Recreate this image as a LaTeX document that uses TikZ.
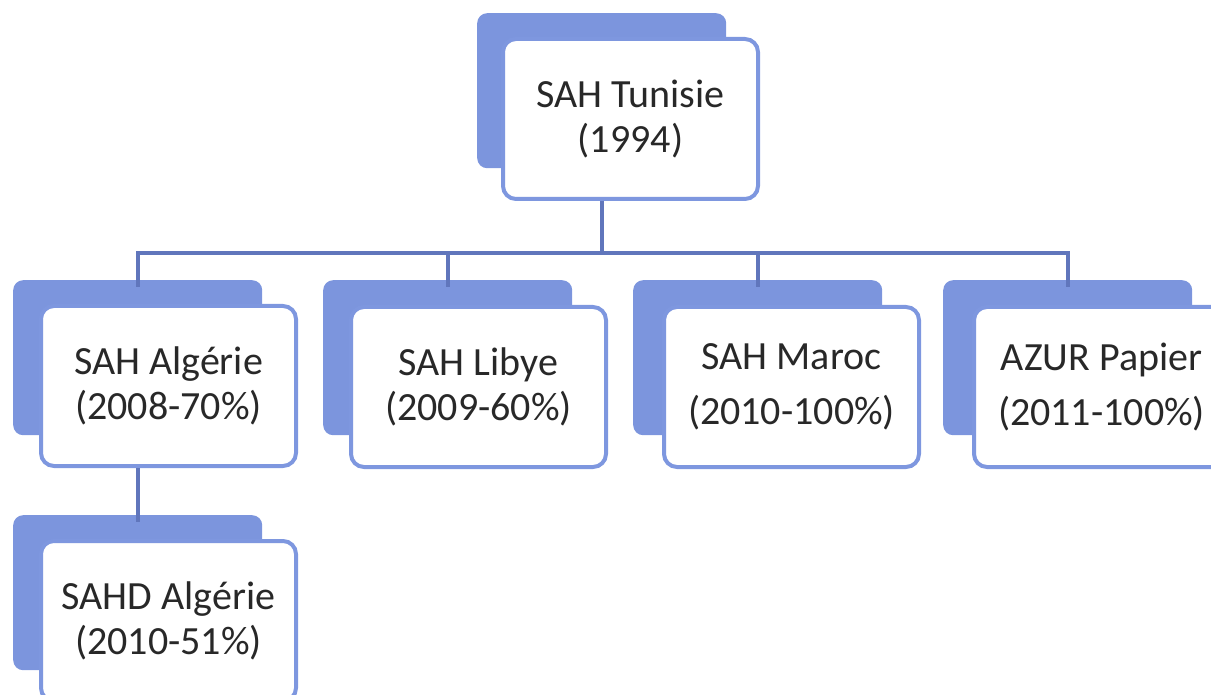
\documentclass[tikz,border=0pt]{standalone}
\usepackage{fontspec}
\setmainfont{Carlito}
\definecolor{backblue}{RGB}{124,149,221}
\definecolor{edgeblue}{RGB}{126,151,223}
\definecolor{connblue}{RGB}{96,118,188}
\definecolor{txt}{RGB}{40,40,40}
\tikzset{
  backbox/.style={fill=backblue, draw=none, rounded corners=10pt, minimum width=249pt, minimum height=155pt, anchor=north west, inner sep=0pt},
  frontbox/.style={fill=white, draw=edgeblue, line width=4pt, rounded corners=13pt, minimum width=255pt, minimum height=160pt, anchor=north west, align=center, text=txt, font=\fontsize{40}{45}\selectfont, inner sep=0pt},
  conn/.style={draw=connblue, line width=4pt},
}
\begin{document}
\begin{tikzpicture}[x=1pt,y=-1pt]
\useasboundingbox (0,0) rectangle (1211,695);
\clip (0,0) rectangle (1211,695);
% top
\node[backbox] (tb) at (477,13) {};
\node[frontbox] (tf) at (501,37) {SAH Tunisie\\(1994)};
% level 2
\node[backbox] (ab) at (13,280) {};
\node[frontbox] (af) at (39,304) {SAH Algérie\\(2008-70\%)};
\node[backbox] (lb) at (323,280) {};
\node[frontbox] (lf) at (349,305) {SAH Libye\\(2009-60\%)};
\node[backbox] (mb) at (633,280) {};
\node[frontbox, font=\fontsize{40}{55}\selectfont] (mf) at (662,305) {SAH Maroc\\(2010-100\%)};
\node[backbox] (zb) at (943,280) {};
\node[frontbox, font=\fontsize{40}{55}\selectfont] (zf) at (972,305) {AZUR Papier\\(2011-100\%)};
% level 3
\node[backbox] (sb) at (13,515) {};
\node[frontbox] (sf) at (39,539) {SAHD Algérie\\(2010-51\%)};
% connectors
\coordinate (bus) at (0,253);
\draw[conn] (tb.center |- tf.south) -- (tb.center |- bus);
\draw[conn, line cap=rect] (ab.north |- bus) -- (zb.north |- bus);
\foreach \n in {ab,lb,mb,zb} \draw[conn] (\n.north |- bus) -- ([yshift=-7pt]\n.north);
\draw[conn] (ab.center |- af.south) -- ([yshift=-7pt]sb.north);
\end{tikzpicture}
\end{document}
